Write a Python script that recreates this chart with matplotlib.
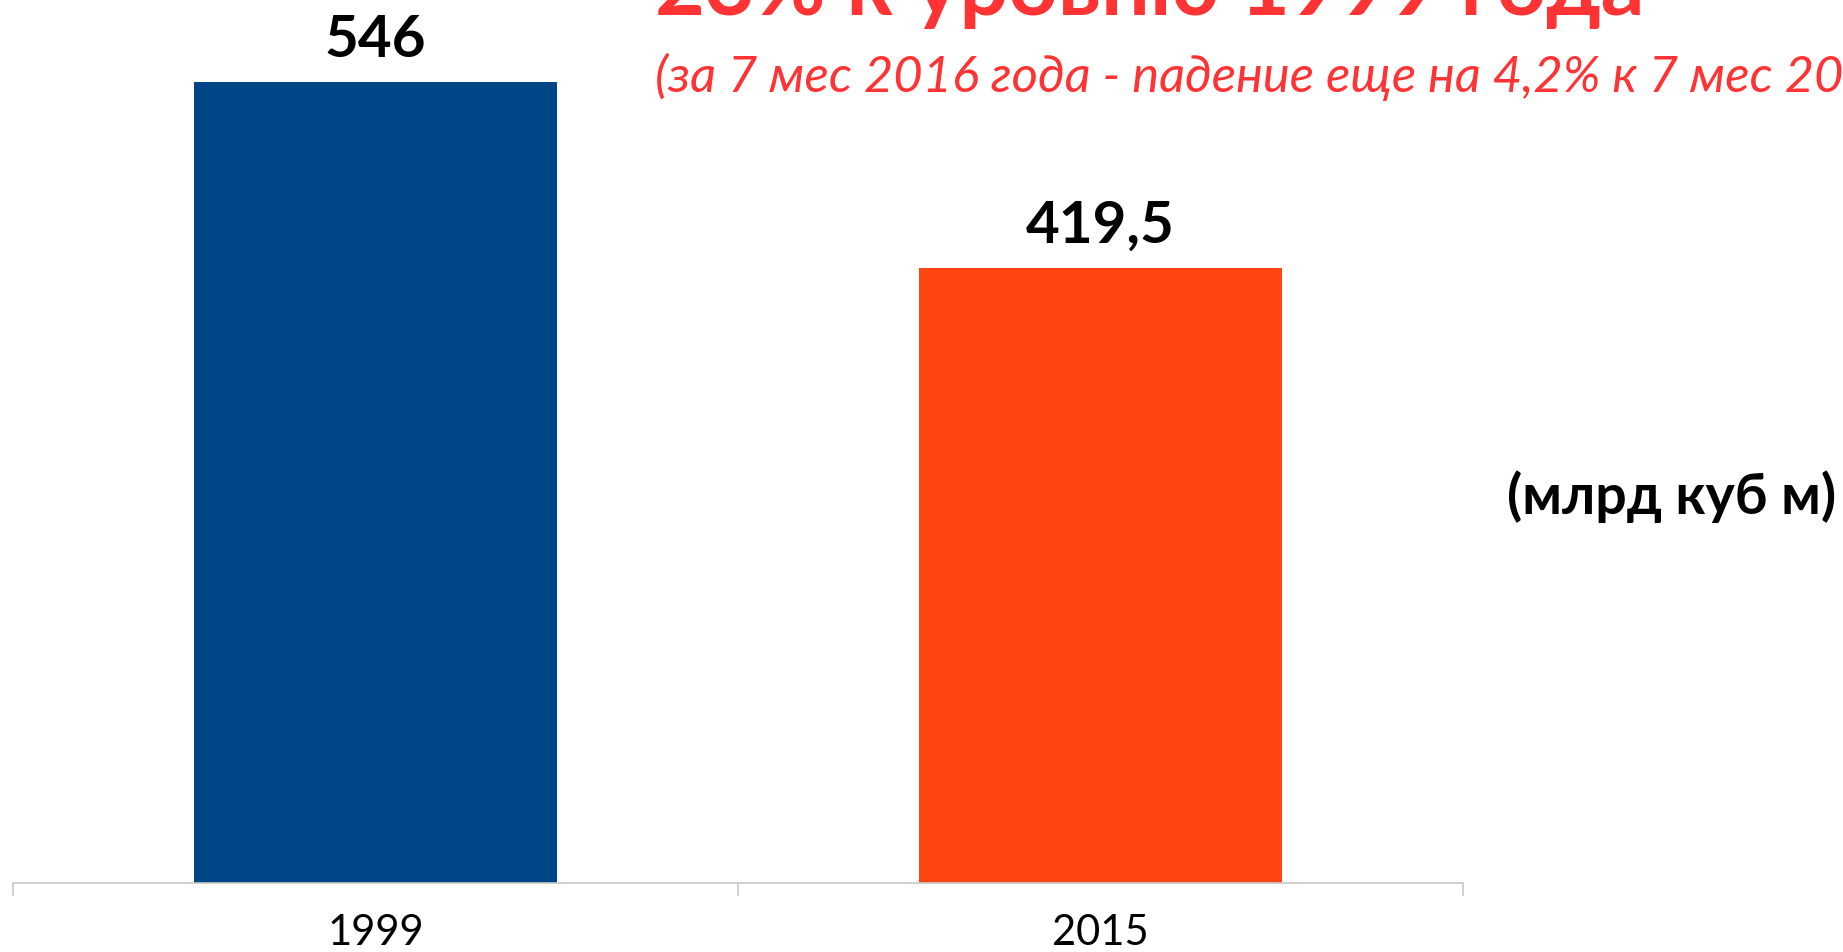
import matplotlib
matplotlib.use("Agg")
import matplotlib.pyplot as plt

categories = ["1999", "2015"]
values = [546, 419.5]
value_labels = ["546", "419,5"]
bar_colors = ["#004586", "#FF4512"]
title_text = "23% к уровню 1999 года"
subtitle_text = "(за 7 мес 2016 года - падение еще на 4,2% к 7 мес 2015 года)"
unit_text = "(млрд куб м)"

W, H = 1843, 952
fig = plt.figure(figsize=(W / 100, H / 100), dpi=100)
fam = ["Lato", "Open Sans", "DejaVu Sans"]
plt.rcParams["font.family"] = fam

def fx(px):
    return px / W

def fy(py):
    return 1 - py / H

ax = fig.add_axes([fx(13), fy(883), fx(1463) - fx(13), fy(0) - fy(883)])
x = list(range(len(categories)))
bars = ax.bar(x, values, width=0.5, color=bar_colors)
ax.set_xlim(-0.5, len(categories) - 0.5)
ax.set_ylim(0, 602)
for s in ["top", "right", "left"]:
    ax.spines[s].set_visible(False)
ax.spines["bottom"].set_color("#C8C8C8")
ax.spines["bottom"].set_linewidth(1.2)
ax.set_yticks([])
ax.set_xticks([-0.5, 0.5, 1.5])
ax.set_xticklabels([])
ax.set_xticks(x, minor=True)
ax.set_xticklabels(categories, minor=True, fontsize=30, color="black")
ax.tick_params(axis="x", which="major", direction="out", length=9, color="#C8C8C8", width=1.2)
ax.tick_params(axis="x", which="minor", length=0, pad=22)

for xi, v, lab in zip(x, values, value_labels):
    ax.annotate(lab, (xi, v), xytext=(0, 11), textcoords="offset points",
                ha="center", va="bottom", fontsize=42, fontweight="bold", color="black")

fig.text(fx(655), fy(15), title_text, fontsize=62, fontweight="bold", color="#FF3333",
         ha="left", va="baseline")
fig.text(fx(655), fy(77), subtitle_text, fontsize=36.5, fontstyle="italic", color="#FF3333",
         ha="left", va="center")
fig.text(fx(1836), fy(497), unit_text, fontsize=40, fontweight="bold", color="black",
         ha="right", va="center")

fig.savefig("out.png", dpi=100)
